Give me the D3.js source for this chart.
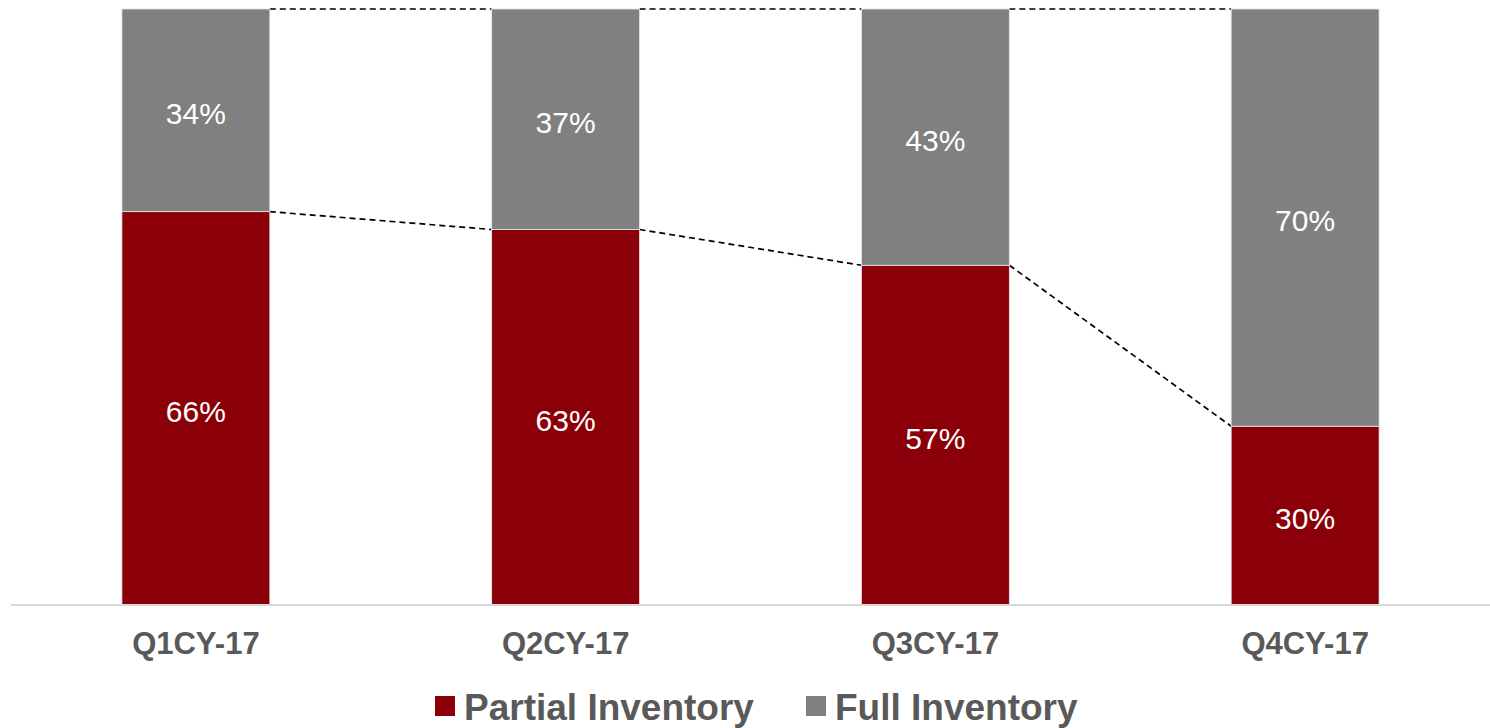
<!DOCTYPE html>
<html>
<head>
<meta charset="utf-8">
<script src="https://cdn.jsdelivr.net/npm/d3@7/dist/d3.min.js"></script>
<style>
  html, body { margin: 0; padding: 0; background: #fff; }
  svg { display: block; font-family: Arial, "Liberation Sans", sans-serif; }
</style>
</head>
<body>
<svg id="chart" width="1490" height="728"></svg>
<script>
// Quarterly share of inventory type (percent)
const categories = ["Q1CY-17", "Q2CY-17", "Q3CY-17", "Q4CY-17"];
const partialInventory = [66, 63, 57, 30];
const fullInventory = [34, 37, 43, 70];
const seriesNames = ["Partial Inventory", "Full Inventory"];
const seriesColors = ["#8b0008", "#808080"];

const svg = d3.select("#chart");

const plot = { left: 11, right: 1490, top: 9, bottom: 605 };

const x = d3.scaleBand()
  .domain(categories)
  .range([plot.left, plot.right])
  .paddingInner(0.6)
  .paddingOuter(0.3);

const y = d3.scaleLinear()
  .domain([0, 100])
  .range([plot.bottom, plot.top]);

const rows = categories.map((c, i) => ({
  cat: c,
  "Partial Inventory": partialInventory[i],
  "Full Inventory": fullInventory[i]
}));

const stacked = d3.stack().keys(seriesNames)(rows);

// Series lines joining stack boundaries between neighbouring bars
const lines = svg.append("g");
stacked.forEach(layer => {
  for (let i = 0; i < layer.length - 1; i++) {
    lines.append("line")
      .attr("x1", x(categories[i]) + x.bandwidth())
      .attr("y1", y(layer[i][1]))
      .attr("x2", x(categories[i + 1]))
      .attr("y2", y(layer[i + 1][1]))
      .attr("stroke", "#000")
      .attr("stroke-width", 1.7)
      .attr("stroke-dasharray", "6,4");
  }
});

// Bars
const bars = svg.append("g");
stacked.forEach((layer, si) => {
  bars.selectAll(null)
    .data(layer)
    .join("rect")
    .attr("x", d => x(d.data.cat))
    .attr("y", d => y(d[1]))
    .attr("width", x.bandwidth())
    .attr("height", d => y(d[0]) - y(d[1]))
    .attr("fill", seriesColors[si])
    .attr("stroke", "#e6e6e6")
    .attr("stroke-width", 0.8);
});

// Value labels
stacked.forEach(layer => {
  svg.append("g").selectAll(null)
    .data(layer)
    .join("text")
    .attr("x", d => x(d.data.cat) + x.bandwidth() / 2)
    .attr("y", d => (y(d[0]) + y(d[1])) / 2 + 3)
    .attr("dy", "0.35em")
    .attr("text-anchor", "middle")
    .attr("fill", "#fff")
    .attr("font-size", 30)
    .text(d => (d[1] - d[0]) + "%");
});

// Category axis
const xAxis = svg.append("g")
  .attr("transform", `translate(0,${plot.bottom})`)
  .call(d3.axisBottom(x).tickSize(0).tickPadding(38));
xAxis.select(".domain")
  .attr("d", `M${plot.left},0H${plot.right}`)
  .attr("stroke", "#d9d9d9")
  .attr("stroke-width", 2);
xAxis.selectAll(".tick text")
  .attr("font-family", "Arial, 'Liberation Sans', sans-serif")
  .attr("font-size", 31)
  .attr("font-weight", "bold")
  .attr("fill", "#595959")
  .attr("dy", "0.35em");

// Legend
const legend = svg.append("g");
const legendItems = [
  { name: seriesNames[0], color: seriesColors[0], x: 435 },
  { name: seriesNames[1], color: seriesColors[1], x: 806 }
];
legendItems.forEach(it => {
  legend.append("rect")
    .attr("x", it.x).attr("y", 696)
    .attr("width", 20).attr("height", 20)
    .attr("fill", it.color);
  legend.append("text")
    .attr("x", it.x + 29).attr("y", 720)
    .attr("font-size", 37)
    .attr("font-weight", "bold")
    .attr("fill", "#595959")
    .text(it.name);
});
</script>
</body>
</html>
